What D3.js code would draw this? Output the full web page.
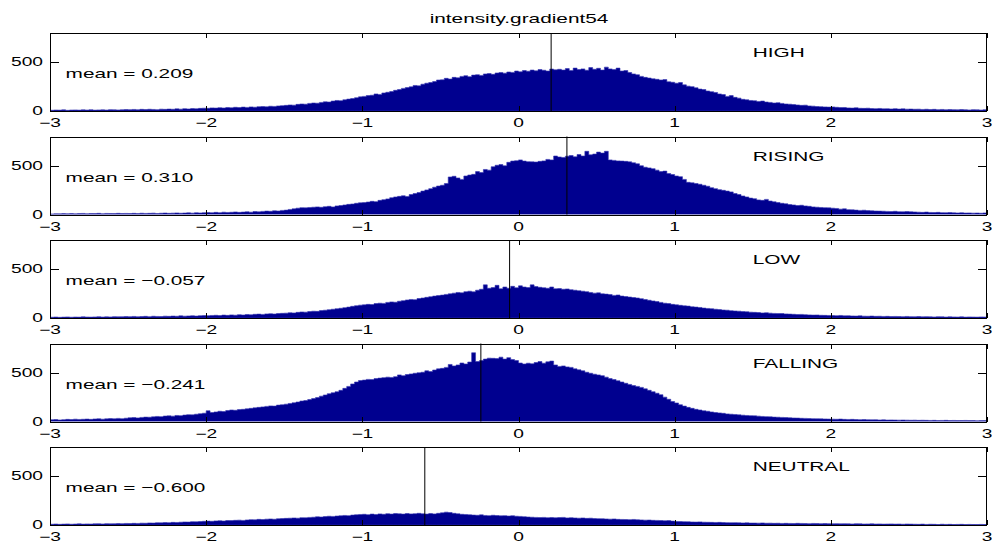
<!DOCTYPE html>
<html lang="en">
<head>
<meta charset="utf-8">
<title>intensity.gradient54</title>
<script src="https://cdnjs.cloudflare.com/ajax/libs/d3/7.8.5/d3.min.js"></script>
<style>
  html, body { margin: 0; padding: 0; background: #fff; }
  svg { display: block; font-family: "Liberation Sans", Arial, Helvetica, sans-serif; }
</style>
</head>
<body>
<div id="chart"></div>
<script>
// ---------------------------------------------------------------------------
// data (bin counts, bins of 0.025 from -3 to 3)
// ---------------------------------------------------------------------------
const chartTitle = "intensity.gradient54";
const categories = ["HIGH", "RISING", "LOW", "FALLING", "NEUTRAL"];
const means = [0.209, 0.310, -0.057, -0.241, -0.600];
const meanLabels = ["mean = 0.209", "mean = 0.310", "mean = \u22120.057", "mean = \u22120.241", "mean = \u22120.600"];
const binStart = -3;
const binWidth = 0.025;
const xTicks = [-3, -2, -1, 0, 1, 2, 3];
const xTickLabels = ["\u22123", "\u22122", "\u22121", "0", "1", "2", "3"];
const yTicks = [0, 500];
const yTickLabels = ["0", "500"];

const highCounts = [
  8,10,9,12,7,10,11,9,12,10, 13,9,11,12,10,14,12,11,13,15,
  14,16,13,17,15,18,16,14,19,17, 20,18,22,19,24,21,25,23,27,29,
  28,32,30,34,31,36,33,38,35,40, 37,42,39,44,46,43,49,47,52,55,
  58,62,60,68,72,70,78,82,80,88, 94,92,102,108,106,115,122,128,136,145,
  150,158,162,175,170,185,192,200,212,220, 232,240,248,262,258,275,285,292,302,318,
  320,335,328,345,340,355,362,352,368,372, 365,380,384,376,390,395,388,400,396,410,
  402,415,408,420,412,425,418,410,430,422, 428,420,435,415,440,425,432,418,445,428,
  438,420,450,432,425,440,410,415,395,380, 372,355,345,338,330,325,318,322,300,295,
  285,292,268,255,250,238,225,220,205,198, 190,175,168,150,158,140,132,120,115,108,
  105,98,102,92,88,82,85,78,72,70, 66,62,58,60,52,50,46,44,42,40,
  42,38,35,36,32,30,33,28,27,29, 25,24,26,22,23,21,24,20,22,19,
  20,18,19,16,18,15,17,14,16,13, 15,14,12,15,13,11,14,12,10,13
];
const risingCounts = [
  6,8,7,9,8,10,7,9,11,8, 10,9,12,8,11,10,9,12,10,11,
  10,12,9,13,11,12,14,10,13,15, 12,14,16,13,15,17,14,18,16,19,
  20,18,22,19,24,21,23,26,22,25, 28,24,30,27,32,35,33,38,36,42,
  45,52,58,65,70,68,72,75,78,74, 80,84,78,88,92,98,104,108,115,120,
  122,128,135,132,145,152,160,172,180,186, 192,185,205,215,225,240,252,265,280,292,
  300,318,385,392,375,360,395,405,412,440, 430,462,455,490,505,512,500,535,548,552,
  560,548,542,540,538,545,550,565,560,600, 590,585,598,605,592,615,600,648,612,620,
  640,630,648,560,555,550,548,545,540,530, 520,500,485,478,470,455,440,445,420,410,
  395,388,360,330,325,318,310,300,290,275, 265,255,248,240,232,215,205,190,180,168,
  162,150,145,155,138,130,122,115,110,102, 98,92,95,88,84,78,75,72,70,68,
  65,62,55,58,50,48,45,42,44,40, 38,36,35,34,32,30,33,29,28,30,
  28,26,24,22,25,21,20,22,19,18, 20,17,16,18,15,16,14,15,13,16
];
const lowCounts = [
  8,10,7,9,11,8,10,9,12,10, 9,11,13,10,12,11,14,12,13,15,
  14,16,13,15,17,14,18,16,15,19, 17,20,18,22,19,21,23,20,24,25,
  24,26,28,25,30,27,32,29,34,31, 36,33,38,40,37,42,44,41,46,48,
  50,54,52,58,62,60,66,70,68,76, 80,85,90,95,100,106,112,120,126,132,
  135,140,138,148,152,150,160,165,162,172, 178,185,190,188,200,205,212,218,225,230,
  235,242,248,255,262,258,270,275,268,285, 295,340,305,312,335,300,318,305,325,310,
  330,318,312,340,322,315,310,305,318,300, 302,295,298,290,285,280,275,270,262,255,
  258,248,245,240,232,236,225,220,215,210, 205,198,190,182,175,168,160,152,148,140,
  135,130,125,122,115,112,108,102,98,95, 90,86,82,80,75,72,70,66,64,60,
  58,56,52,54,50,47,45,46,42,40, 38,36,37,34,32,30,31,28,27,26,
  25,24,26,22,23,21,20,22,19,18, 20,17,18,16,17,15,16,15,14,16,
  14,13,15,12,14,12,11,13,12,10, 12,11,10,12,9,11,10,9,11,10
];
const fallingCounts = [
  18,20,16,19,22,20,24,21,23,25, 22,26,28,24,27,30,28,32,29,34,
  38,40,37,42,45,44,48,52,50,56, 58,55,62,60,66,70,68,75,80,85,
  110,92,98,105,102,112,118,115,122,125, 130,135,140,145,150,155,160,158,168,172,
  178,185,192,200,210,215,225,235,245,260, 272,285,295,305,320,340,360,385,405,420,
  425,432,430,440,445,450,455,452,460,478, 470,482,488,495,500,505,520,512,528,540,
  545,555,585,570,580,600,590,610,705,615, 625,640,650,648,645,660,640,655,635,625,
  600,590,598,592,605,615,598,612,620,580, 565,570,560,555,540,530,520,505,495,485,
  478,470,455,440,430,418,405,392,380,368, 360,350,335,320,305,290,275,250,228,205,
  190,172,158,145,135,125,118,110,105,98, 92,88,84,78,75,72,68,65,62,60,
  58,55,52,50,48,45,44,42,40,38, 36,35,33,32,30,29,28,27,26,25,
  24,23,25,22,21,22,20,19,20,18, 17,18,16,17,15,16,15,14,15,14,
  13,14,12,13,12,11,12,10,11,12, 10,11,9,10,11,9,10,8,9,10
];
const neutralCounts = [
  8,10,7,9,11,8,10,12,9,11, 10,12,13,11,14,12,13,15,14,16,
  15,17,16,19,18,21,20,23,22,25, 24,27,26,29,31,30,34,33,36,38,
  40,38,42,44,41,46,45,48,50,47, 52,55,53,58,56,60,62,59,64,66,
  68,70,72,70,75,74,78,80,84,82, 86,90,88,92,95,98,96,102,105,108,
  110,106,112,108,114,110,116,112,118,115, 112,118,114,116,120,115,112,118,114,120,
  125,132,128,120,115,110,108,105,102,100, 104,98,96,100,97,94,96,92,95,90,
  88,85,82,80,78,76,78,75,77,74, 76,78,73,75,72,70,72,68,70,66,
  65,64,62,60,62,58,57,56,55,57, 54,52,50,51,48,47,46,44,45,40,
  36,35,34,33,31,30,32,29,28,27, 26,27,25,24,23,24,22,21,22,20,
  20,19,21,18,19,17,18,16,17,16, 15,17,16,15,14,16,15,14,15,14,
  13,14,12,13,12,11,13,12,10,11, 12,10,11,9,10,11,9,10,8,10,
  9,8,7,9,6,8,7,5,8,6, 7,5,6,7,4,6,5,4,6,5
];
const seriesCounts = [highCounts, risingCounts, lowCounts, fallingCounts, neutralCounts];

// ---------------------------------------------------------------------------
// layout
// ---------------------------------------------------------------------------
const W = 992, H = 544;
const axLeft = 50, axRight = 987;
const axTop0 = 33, axStep = 103.5, axH = 78;
const stretch = 1.6;   // the picture is stretched sideways, text too
const barColor = "#00008f";

const svg = d3.select("#chart").append("svg")
  .attr("width", W)
  .attr("height", H)
  .attr("viewBox", "0 0 " + W + " " + H);

const x = d3.scaleLinear().domain([-3, 3]).range([axLeft, axRight]);

function stretchedText(g, px, py, str, size, anchor) {
  return g.append("text")
    .attr("transform", "translate(" + px + "," + py + ") scale(" + stretch + ",1)")
    .attr("font-size", size)
    .attr("text-anchor", anchor)
    .attr("fill", "#000")
    .text(str);
}

// title
stretchedText(svg, 519, 23, chartTitle, 13, "middle");

categories.forEach(function(name, k) {
  const top = axTop0 + k * axStep;
  const y = d3.scaleLinear().domain([0, 800]).range([top + axH, top]);
  const g = svg.append("g");

  // clip to the axes box
  const clipId = "clip" + k;
  g.append("clipPath").attr("id", clipId)
    .append("rect")
    .attr("x", axLeft).attr("y", top)
    .attr("width", axRight - axLeft).attr("height", axH);

  // histogram as one stepped area (no seams between bins)
  const counts = seriesCounts[k];
  const steps = counts.map(function(c, i) { return { x: binStart + i * binWidth, n: c }; });
  steps.push({ x: binStart + counts.length * binWidth, n: counts[counts.length - 1] });

  const area = d3.area()
    .curve(d3.curveStepAfter)
    .x(function(d) { return x(d.x); })
    .y0(y(0))
    .y1(function(d) { return y(d.n); });

  g.append("path")
    .attr("clip-path", "url(#" + clipId + ")")
    .datum(steps)
    .attr("d", area)
    .attr("fill", barColor)
    .attr("stroke", "#3434b0")
    .attr("stroke-width", 0.6);

  // mean line
  g.append("line")
    .attr("x1", x(means[k])).attr("x2", x(means[k]))
    .attr("y1", top).attr("y2", top + axH)
    .attr("stroke", "#000").attr("stroke-width", 1);

  // box
  g.append("rect")
    .attr("x", axLeft + 0.5).attr("y", top + 0.5)
    .attr("width", axRight - axLeft - 1).attr("height", axH)
    .attr("fill", "none").attr("stroke", "#000").attr("stroke-width", 1)
    .attr("shape-rendering", "crispEdges");

  // x ticks, inward on top and bottom
  xTicks.forEach(function(t, i) {
    const px = Math.round(x(t)) + 0.5;
    g.append("line").attr("x1", px).attr("x2", px)
      .attr("y1", top + axH).attr("y2", top + axH - 5)
      .attr("stroke", "#000").attr("shape-rendering", "crispEdges");
    g.append("line").attr("x1", px).attr("x2", px)
      .attr("y1", top).attr("y2", top + 5)
      .attr("stroke", "#000").attr("shape-rendering", "crispEdges");
    stretchedText(g, x(t), top + axH + 16, xTickLabels[i], 12, "middle");
  });

  // y ticks, inward on left and right
  yTicks.forEach(function(t, i) {
    const py = Math.round(y(t)) + 0.5;
    g.append("line").attr("x1", axLeft).attr("x2", axLeft + 9)
      .attr("y1", py).attr("y2", py)
      .attr("stroke", "#000").attr("shape-rendering", "crispEdges");
    g.append("line").attr("x1", axRight).attr("x2", axRight - 9)
      .attr("y1", py).attr("y2", py)
      .attr("stroke", "#000").attr("shape-rendering", "crispEdges");
    stretchedText(g, axLeft - 7, y(t) + 4, yTickLabels[i], 12, "end");
  });

  // annotations
  stretchedText(g, x(-2.9), y(380) + 4.5, meanLabels[k], 13, "start");
  stretchedText(g, x(1.5), y(600) + 4.5, name, 13, "start");
});
</script>
</body>
</html>
